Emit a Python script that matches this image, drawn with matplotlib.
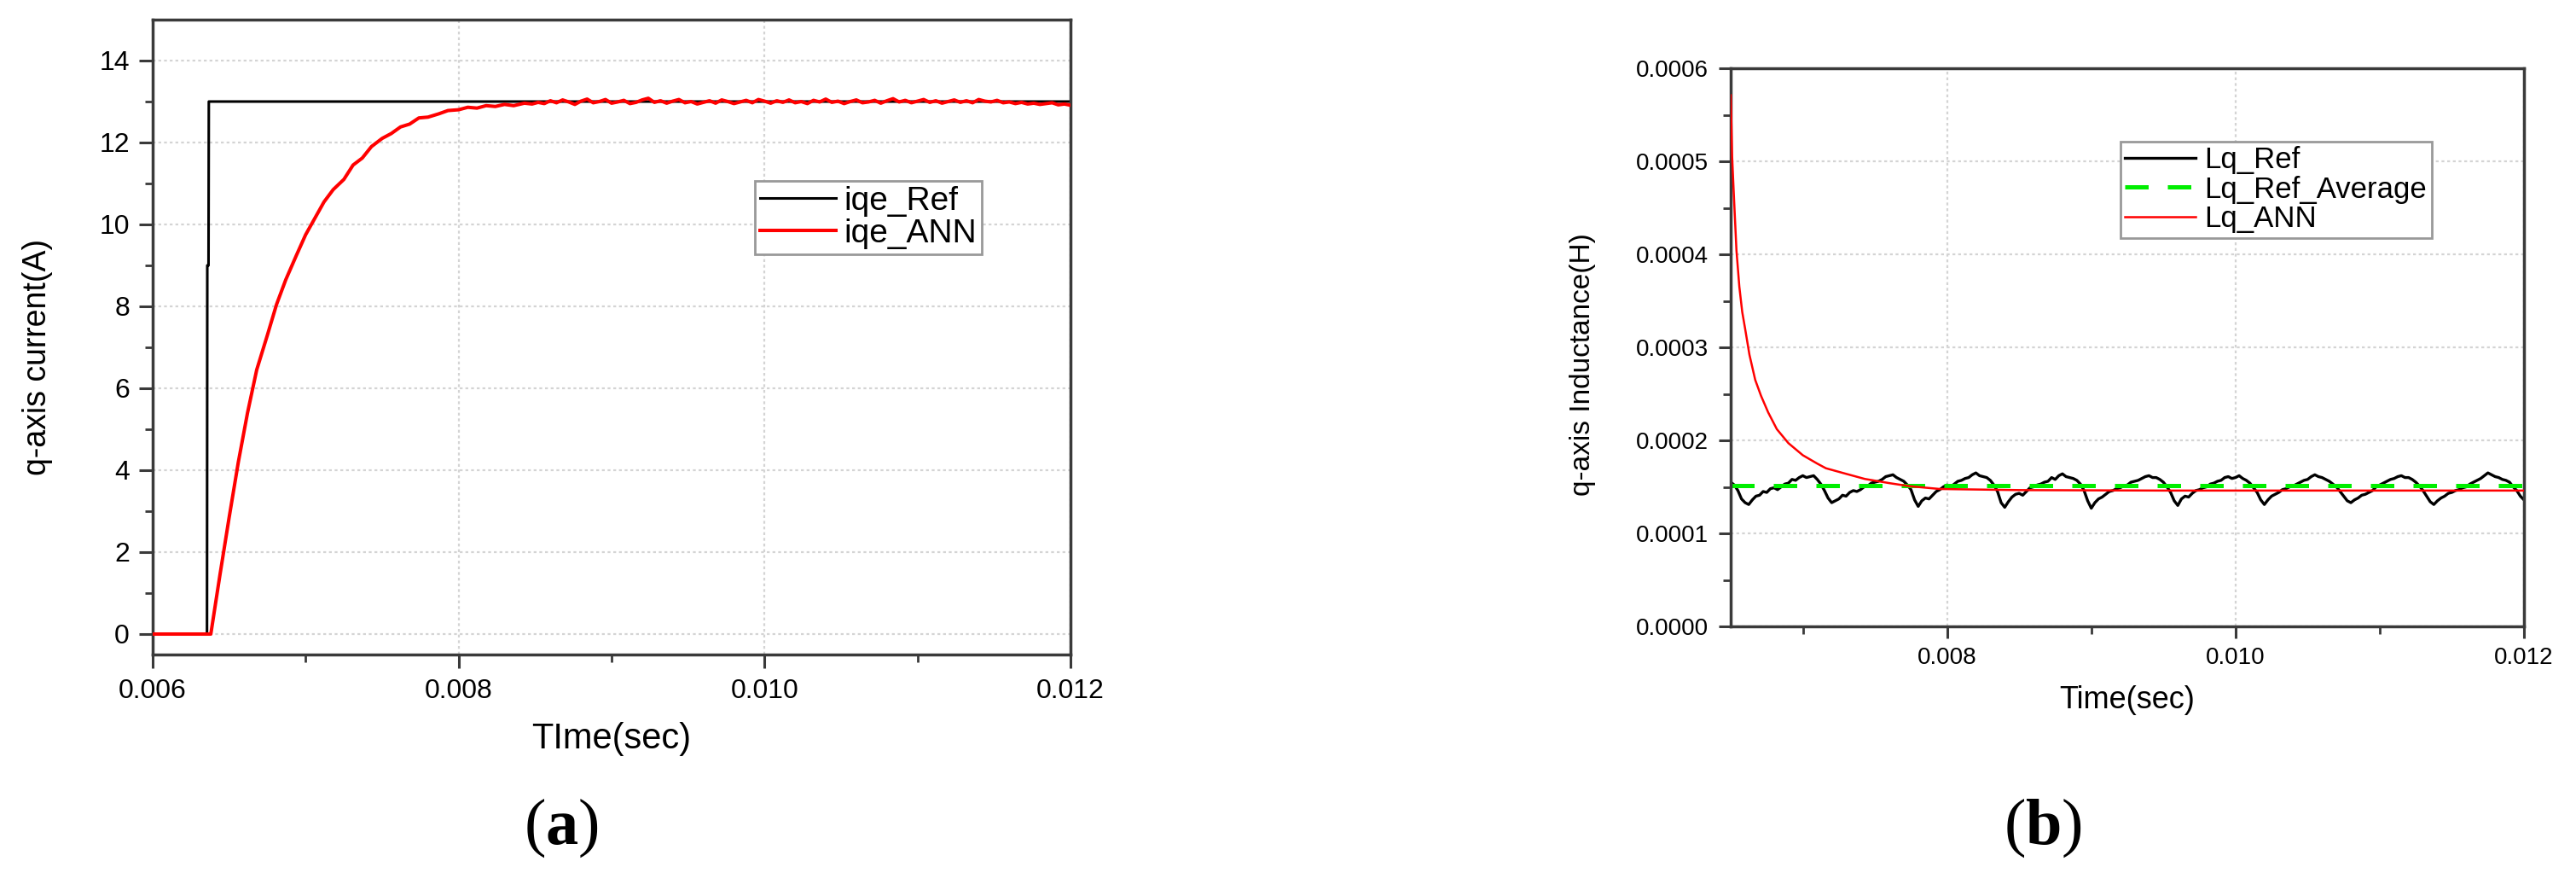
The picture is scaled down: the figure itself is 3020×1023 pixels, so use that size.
import numpy as np
import matplotlib
matplotlib.use("Agg")
import matplotlib.pyplot as plt
from matplotlib.ticker import MultipleLocator, FixedLocator, FormatStrFormatter

plt.rcParams['font.family'] = ['Liberation Sans', 'DejaVu Sans']
plt.rcParams['mathtext.fontset'] = 'custom'
plt.rcParams['mathtext.rm'] = 'Liberation Serif'
plt.rcParams['mathtext.bf'] = 'Liberation Serif:bold'

# ---------------- data: panel (a) ----------------
t_iqe_ref = [0.006, 0.006355, 0.006357, 0.006365, 0.006367, 0.012]
iqe_ref = [0.0, 0.0, 9.0, 9.0, 13.0, 13.0]

t_iqe_ann_rise = [0.006, 0.00638, 0.00644, 0.0065, 0.00656, 0.00662, 0.00668, 0.00675,
                  0.00681, 0.00687, 0.00694, 0.00700, 0.00706, 0.00712, 0.00718, 0.00725,
                  0.00731, 0.00737, 0.00743, 0.00750, 0.00756, 0.00762, 0.00768, 0.00774,
                  0.00780, 0.00787, 0.00793, 0.00800, 0.00806, 0.00812, 0.00818, 0.00824,
                  0.00830, 0.00836, 0.00843]
iqe_ann_rise = [0.0, 0.0, 1.45, 2.85, 4.20, 5.40, 6.45, 7.30,
                8.05, 8.65, 9.25, 9.75, 10.15, 10.55, 10.85, 11.10,
                11.45, 11.62, 11.90, 12.10, 12.22, 12.38, 12.45, 12.60,
                12.62, 12.70, 12.78, 12.80, 12.86, 12.84, 12.90, 12.88,
                12.93, 12.90, 12.96]
# steady-state part, sampled evenly from 0.00848 to 0.01200
iqe_ann_steady = [12.94, 12.98, 12.95, 13.02, 12.97, 13.04, 12.99, 12.93, 13.01, 13.06,
                  12.97, 13.00, 13.05, 12.96, 12.99, 13.03, 12.95, 12.98, 13.04, 13.08,
                  12.98, 13.02, 12.96, 13.01, 13.05, 12.97, 13.00, 12.94, 12.98, 13.02,
                  12.96, 13.04, 13.00, 12.95, 12.99, 13.03, 12.97, 13.05, 13.01, 12.96,
                  13.02, 12.98, 13.04, 12.97, 13.00, 12.95, 13.03, 12.99, 13.06, 12.98,
                  13.01, 12.95, 13.00, 13.04, 12.97, 12.99, 13.03, 12.96, 13.02, 13.07,
                  12.99, 13.03, 12.97, 13.01, 13.05, 12.98, 13.02, 12.96, 13.00, 13.04,
                  12.98, 13.02, 12.97, 13.05, 13.01, 12.99, 13.03, 12.97, 12.99, 12.95,
                  12.98, 12.94, 12.96, 12.93, 12.95, 12.97, 12.92, 12.94, 12.91]
t_iqe_ann_steady = np.linspace(0.00848, 0.012, len(iqe_ann_steady))

# ---------------- data: panel (b) ----------------
# Lq_Ref sampled every 0.000025 s from 0.0065 to 0.0120 (units 1e-4 H)
lq_ref = [1.55, 1.52, 1.46, 1.37, 1.33, 1.31, 1.36, 1.40, 1.41, 1.45, 1.44, 1.48, 1.49, 1.47, 1.50, 1.53, 1.54, 1.58, 1.57, 1.60,
          1.62, 1.60, 1.61, 1.62, 1.58, 1.53, 1.46, 1.38, 1.33, 1.35, 1.37, 1.41, 1.40, 1.44, 1.46, 1.45, 1.47, 1.50, 1.51, 1.54,
          1.55, 1.56, 1.58, 1.61, 1.62, 1.63, 1.60, 1.58, 1.56, 1.52, 1.47, 1.36, 1.29, 1.35, 1.38, 1.37, 1.41, 1.45, 1.47, 1.50,
          1.52, 1.50, 1.53, 1.56, 1.57, 1.59, 1.60, 1.63, 1.65, 1.62, 1.61, 1.60, 1.57, 1.52, 1.45, 1.33, 1.28, 1.34, 1.39, 1.42,
          1.43, 1.41, 1.45, 1.49, 1.50, 1.52, 1.53, 1.55, 1.56, 1.60, 1.58, 1.62, 1.64, 1.61, 1.60, 1.59, 1.57, 1.53, 1.46, 1.35,
          1.27, 1.33, 1.37, 1.39, 1.42, 1.45, 1.46, 1.48, 1.49, 1.51, 1.52, 1.55, 1.56, 1.57, 1.59, 1.61, 1.62, 1.60, 1.60, 1.58,
          1.55, 1.50, 1.44, 1.35, 1.30, 1.37, 1.40, 1.39, 1.43, 1.46, 1.47, 1.49, 1.50, 1.53, 1.54, 1.56, 1.57, 1.60, 1.61, 1.59,
          1.60, 1.62, 1.59, 1.57, 1.54, 1.49, 1.44, 1.36, 1.31, 1.36, 1.40, 1.42, 1.44, 1.47, 1.48, 1.50, 1.51, 1.53, 1.55, 1.57,
          1.58, 1.61, 1.63, 1.61, 1.60, 1.58, 1.56, 1.53, 1.50, 1.45, 1.40, 1.35, 1.33, 1.36, 1.38, 1.41, 1.42, 1.44, 1.46, 1.50,
          1.52, 1.54, 1.56, 1.58, 1.59, 1.61, 1.62, 1.60, 1.60, 1.58, 1.55, 1.51, 1.46, 1.40, 1.34, 1.31, 1.35, 1.38, 1.40, 1.43,
          1.44, 1.46, 1.47, 1.49, 1.50, 1.53, 1.55, 1.57, 1.59, 1.62, 1.65, 1.63, 1.61, 1.60, 1.58, 1.57, 1.55, 1.50, 1.46, 1.40,
          1.36]
t_lq_ref = np.linspace(0.0065, 0.0120, len(lq_ref))

t_lq_avg = [0.0065, 0.0120]
lq_avg = [1.51, 1.51]

t_lq_ann = [0.0065, 0.006505, 0.00651, 0.00652, 0.00654, 0.00656, 0.00658, 0.00660, 0.00663,
            0.00667, 0.00671, 0.00676, 0.00682, 0.00690, 0.00700, 0.00710, 0.00716,
            0.00730, 0.00743, 0.00760, 0.00774, 0.00795, 0.00850, 0.00950, 0.01200]
lq_ann = [5.71, 5.40, 5.05, 4.70, 4.04, 3.65, 3.38, 3.20, 2.92,
          2.65, 2.48, 2.30, 2.12, 1.97, 1.84, 1.75, 1.70,
          1.64, 1.585, 1.54, 1.507, 1.477, 1.465, 1.46, 1.46]

W, H = 3020, 1023
fig = plt.figure(figsize=(W / 100, H / 100), dpi=100)

spine_c = '#3a3a3a'
grid_kw = dict(color='#d4d4d4', linestyle=(0, (1.5, 1.5)), linewidth=1.6)


def style_axes(ax, tick_fs, maj_len, pad_x, pad_y):
    for s in ax.spines.values():
        s.set_color(spine_c)
        s.set_linewidth(2.5)
    ax.tick_params(which='major', direction='out', length=maj_len, width=2.2,
                   color=spine_c, labelsize=tick_fs, top=False, right=False)
    ax.tick_params(which='minor', direction='out', length=6.5, width=2.0,
                   color=spine_c, top=False, right=False)
    ax.tick_params(axis='x', which='major', pad=pad_x)
    ax.tick_params(axis='y', which='major', pad=pad_y)
    ax.grid(True, which='major', **grid_kw)
    ax.set_axisbelow(True)


# ---------------- panel (a) ----------------
ax1 = fig.add_axes([179 / W, 1 - 767 / H, (1255 - 179) / W, (767 - 23) / H])
ax1.plot(t_iqe_ref, iqe_ref, color='black', lw=2.2, label='iqe_Ref')
t_ann = list(t_iqe_ann_rise) + list(t_iqe_ann_steady)
v_ann = list(iqe_ann_rise) + list(iqe_ann_steady)
ax1.plot(t_ann, v_ann, color='#ff0000', lw=2.9, label='iqe_ANN', zorder=3)
ax1.set_xlim(0.006, 0.012)
ax1.set_ylim(-0.5, 15)
ax1.xaxis.set_major_locator(FixedLocator([0.006, 0.008, 0.010, 0.012]))
ax1.xaxis.set_minor_locator(FixedLocator([0.007, 0.009, 0.011]))
ax1.xaxis.set_major_formatter(FormatStrFormatter('%.3f'))
ax1.yaxis.set_major_locator(FixedLocator([0, 2, 4, 6, 8, 10, 12, 14]))
ax1.yaxis.set_minor_locator(FixedLocator([1, 3, 5, 7, 9, 11, 13]))
style_axes(ax1, 23, 11.5, 8.6, 8)
ax1.set_xlabel('TIme(sec)', fontsize=30, va='center')
ax1.xaxis.set_label_coords(0.5, -0.133)
ax1.set_ylabel('q-axis current(A)', fontsize=27, va='center')
ax1.yaxis.set_label_coords(-0.1255, 0.468)
leg1 = ax1.legend(loc='upper left', bbox_to_anchor=(0.656, 0.746), borderaxespad=0,
                  fontsize=28, handlelength=2.3, handletextpad=0.25, labelspacing=0.05,
                  borderpad=0.15, fancybox=False, framealpha=1, edgecolor='#999999')
leg1.get_frame().set_linewidth(2)

# ---------------- panel (b) ----------------
ax2 = fig.add_axes([2029 / W, 1 - 734 / H, (2959 - 2029) / W, (734 - 80) / H])
ax2.plot(t_lq_ref, np.array(lq_ref) * 1e-4, color='black', lw=2.4, label='Lq_Ref')
ax2.plot(t_lq_avg, np.array(lq_avg) * 1e-4, color='#00ee00', lw=3.6,
         dashes=(5.5, 4.5), label='Lq_Ref_Average')
ax2.plot(t_lq_ann, np.array(lq_ann) * 1e-4, color='#ff0000', lw=1.8, label='Lq_ANN',
         zorder=3)
ax2.set_xlim(0.0065, 0.012)
ax2.set_ylim(0, 0.0006)
ax2.xaxis.set_major_locator(FixedLocator([0.008, 0.010, 0.012]))
ax2.xaxis.set_minor_locator(FixedLocator([0.007, 0.009, 0.011]))
ax2.xaxis.set_major_formatter(FormatStrFormatter('%.3f'))
ax2.yaxis.set_major_locator(MultipleLocator(0.0001))
ax2.yaxis.set_minor_locator(MultipleLocator(0.00005))
ax2.yaxis.set_major_formatter(FormatStrFormatter('%.4f'))
style_axes(ax2, 20, 10, 7, 8.6)
ax2.set_xlabel('Time(sec)', fontsize=26, va='center')
ax2.xaxis.set_label_coords(0.5, -0.1315)
ax2.set_ylabel('q-axis Inductance(H)', fontsize=24, va='center')
ax2.yaxis.set_label_coords(-0.187, 0.469)
leg2 = ax2.legend(loc='upper left', bbox_to_anchor=(0.491, 0.869), borderaxespad=0,
                  fontsize=25, handlelength=2.4, handletextpad=0.3, labelspacing=0.05,
                  borderpad=0.15, fancybox=False, framealpha=1, edgecolor='#999999')
leg2.get_frame().set_linewidth(2)

# panel labels
fig.text(658 / W, 1 - 970 / H, r'$(\mathbf{a})$', fontsize=55, ha='center', va='center')
fig.text(2395 / W, 1 - 970 / H, r'$(\mathbf{b})$', fontsize=55, ha='center', va='center')

fig.savefig('out.png', dpi=100, facecolor='white')
